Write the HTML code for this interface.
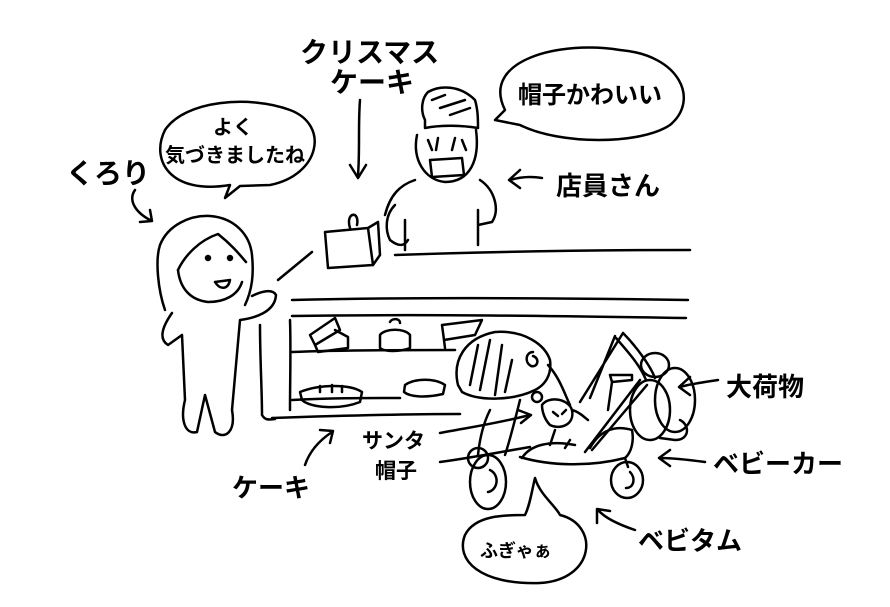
<!DOCTYPE html>
<html><head><meta charset="utf-8"><style>
html,body{margin:0;padding:0;background:#fff;}
svg{display:block;}
text{font-family:"Liberation Sans","Noto Sans CJK JP",sans-serif;font-weight:bold;fill:#000;}
</style></head><body>
<svg width="890" height="607" viewBox="0 0 890 607" xmlns="http://www.w3.org/2000/svg">
<g fill="none" stroke="#000" stroke-width="2.5" stroke-linecap="round" stroke-linejoin="round">
<!-- bubbles -->
<path d="M505 110 C480 60 560 40 620 50 C680 55 700 100 670 125 C640 145 560 145 520 125 L495 120 Z"/>
<path d="M230 185 C170 195 150 160 165 130 C185 100 250 95 290 110 C330 125 320 175 270 185 L240 186 L225 198 Z"/>
<path d="M535 478 C540 495 555 505 560 515 C600 525 595 580 540 583 C480 585 455 560 465 535 C475 515 505 515 525 515 C530 505 532 490 535 478 Z"/>
<!-- arrows -->
<path d="M360 100 C358 125 360 150 358 175 M350 165 L358 178 L366 165"/>
<path d="M542 178 C530 176 520 177 510 180 M520 170 L509 180 L520 188"/>
<path d="M135 190 C128 200 135 212 150 220 M140 222 L152 221 L150 210"/>
<path d="M718 380 C705 382 690 384 680 387 M690 377 L679 387 L690 395"/>
<path d="M705 462 C690 460 675 458 660 458 M670 450 L659 458 L670 466"/>
<path d="M635 530 C620 525 605 518 598 510 M597 523 L597 509 L610 511"/>
<path d="M305 465 C310 450 320 440 332 432 M320 430 L333 431 L330 443"/>
<path d="M440 433 C465 428 490 425 530 415 M518 410 L531 415 L521 423"/>
<path d="M440 462 C470 458 500 452 530 447"/>
<!-- counter -->
<path d="M395 255 C480 252 590 250 690 250"/>
<path d="M292 300 C420 297 560 298 688 300"/>
<path d="M292 316 C420 314 560 316 686 318"/>
<path d="M260 325 C260 360 262 390 262 415 C265 420 268 420 275 419"/>
<path d="M272 418 C330 416 400 414 460 414"/>
<path d="M290 320 C291 350 290 380 290 410"/>
<path d="M278 280 C290 270 300 262 312 252"/>
<path d="M292 352 C340 350 400 350 455 350"/>
<path d="M292 400 C330 398 360 398 400 398"/>
<!-- cakes on shelves -->
<path d="M310 335 L335 318 L340 330 L315 345 Z M315 345 L318 352 L348 348 L348 337 L335 330"/>
<path d="M380 335 C385 328 405 328 410 335 L410 348 C400 352 385 352 380 348 Z M390 322 C392 318 400 318 400 323"/>
<path d="M442 325 L482 320 L475 335 L444 340 Z M444 340 L445 348"/>
<path d="M300 392 C320 384 350 384 362 392 L360 402 C340 410 310 408 302 400 Z"/>
<path d="M320 386 L320 392 M332 385 L332 392 M342 386 L342 392"/>
<path d="M405 385 C415 378 435 378 445 385 L443 394 C425 398 410 397 404 392 Z"/>
<!-- kurori -->
<path d="M165 310 C158 290 155 260 160 245 C168 225 190 215 210 216 C235 218 250 235 252 255 C254 275 252 290 245 305"/>
<path d="M178 270 C185 255 200 240 218 234 C232 245 240 255 246 262"/>
<path d="M178 270 C180 288 190 300 208 302 C225 302 238 295 242 282"/>
<circle cx="208" cy="258" r="2" fill="#000"/><circle cx="230" cy="258" r="2" fill="#000"/>
<path d="M215 282 C220 290 228 290 230 280 Z"/>
<path d="M172 313 C160 330 160 340 168 345 L182 335 L185 400 C180 420 185 435 197 432 L205 395 L215 432 C225 440 236 432 232 410 L240 320 C255 318 275 312 276 295 C272 288 260 292 252 296"/>
<!-- clerk -->
<path d="M425 120 C420 110 422 98 428 92 C440 85 460 85 475 100 C478 110 478 120 478 128 C460 125 440 125 425 128 Z"/>
<path d="M432 100 L445 95 M440 108 L465 100 M450 115 L470 108"/>
<path d="M417 135 C412 160 425 180 445 182 C470 182 480 160 476 130"/>
<path d="M430 160 L462 158 L464 175 L432 177 Z"/>
<path d="M428 140 L432 150 M438 138 L436 150 M455 138 L452 150 M462 140 L466 150"/>
<path d="M395 205 C385 215 385 230 390 240 C400 248 405 245 408 240 M405 250 L405 220"/>
<path d="M415 180 C400 185 390 195 385 215"/>
<path d="M480 180 C495 190 500 210 492 222 L478 225 M478 245 L478 210"/>
<path d="M325 232 L368 228 L373 265 L328 268 Z M368 228 L378 222 L380 255 L373 265 M350 228 C345 212 360 210 357 225"/>
<!-- stroller -->
<path d="M458 385 C452 360 465 338 495 332 C525 330 545 345 550 360 C552 375 545 385 535 390 C515 400 480 402 462 392 Z"/>
<path d="M548 365 C560 378 565 395 570 405"/>
<path d="M478 345 L470 385 M490 340 L480 390 M502 345 L495 395 M512 360 L505 392"/>
<path d="M533 352 C526 352 524 362 531 366 C538 368 540 358 533 356"/>
<circle cx="537" cy="397" r="5"/>
<path d="M542 405 C548 396 568 398 572 410 C575 425 560 430 550 425 C545 420 542 412 542 405 Z"/>
<path d="M553 412 L558 416 M562 414 L566 410 M572 410 C580 412 585 418 588 420"/>
<path d="M623 333 L580 402 M615 336 L590 398 M623 333 C635 345 650 365 655 378 M616 338 C628 352 640 365 646 380"/>
<path d="M647 385 L592 450 M640 380 L585 452"/>
<path d="M610 375 L632 375 L632 380 L612 382 Z M612 382 L608 410"/>
<path d="M490 410 C485 420 480 435 478 455 M520 400 C515 420 510 440 505 455"/>
<path d="M520 457 C550 466 590 467 625 458 C632 452 634 440 632 430 C615 425 600 430 590 448"/>
<path d="M522 458 C530 445 550 440 575 445"/>
<path d="M550 445 L555 430 M565 448 L570 440"/>
<ellipse cx="488" cy="482" rx="18" ry="27"/>
<path d="M490 470 C500 475 498 490 488 492"/>
<circle cx="478" cy="458" r="10"/>
<ellipse cx="627" cy="480" rx="16" ry="18"/>
<path d="M630 472 C636 478 634 488 626 488 M625 458 L628 467"/>
<ellipse cx="655" cy="365" rx="14" ry="12"/>
<ellipse cx="675" cy="400" rx="20" ry="32"/>
<ellipse cx="650" cy="410" rx="20" ry="30"/>
<path d="M680 420 C690 425 690 440 675 440 L660 438"/>
</g>
<text x="300" y="62" font-size="28">クリスマス</text>
<text x="330" y="92" font-size="28">ケーキ</text>
<text x="518" y="103" font-size="24">帽子かわいい</text>
<text x="213" y="134" font-size="20">よく</text>
<text x="165" y="162" font-size="20">気づきましたね</text>
<text x="66" y="183" font-size="28">くろり</text>
<text x="556" y="195" font-size="26">店員さん</text>
<text x="726" y="396" font-size="26">大荷物</text>
<text x="713" y="473" font-size="26">ベビーカー</text>
<text x="638" y="550" font-size="26">ベビタム</text>
<text x="232" y="497" font-size="26">ケーキ</text>
<text x="362" y="448" font-size="21">サンタ</text>
<text x="375" y="478" font-size="21">帽子</text>
<text x="480" y="557" font-size="18">ふぎゃぁ</text>
</svg>
</body></html>
